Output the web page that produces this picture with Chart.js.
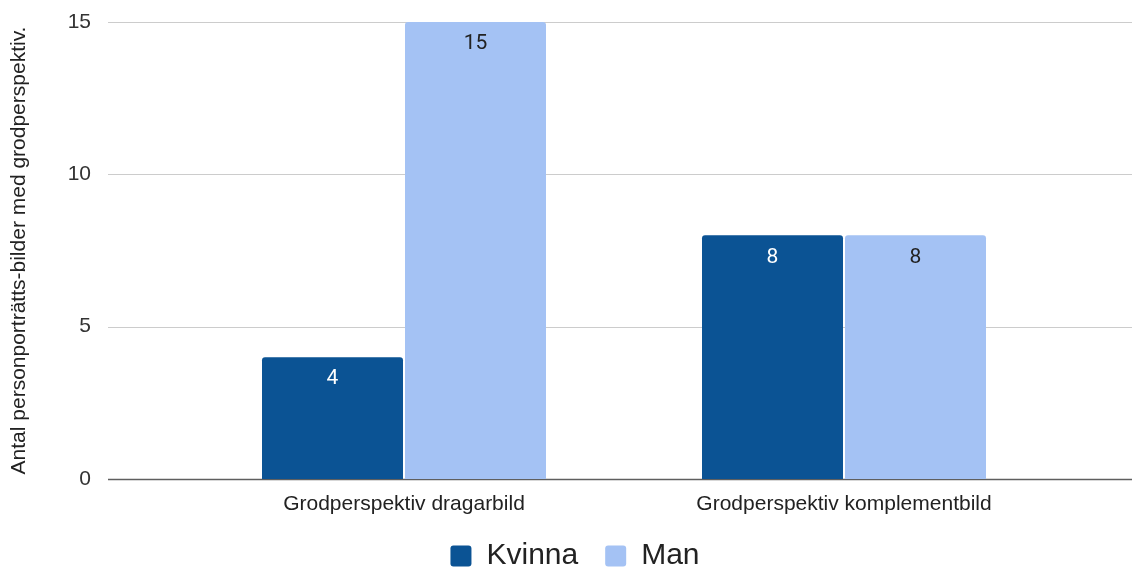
<!DOCTYPE html>
<html><head><meta charset="utf-8">
<script src="https://cdn.jsdelivr.net/npm/chart.js@4.4.0/dist/chart.umd.min.js"></script>
<style>html,body{margin:0;padding:0;background:#fff;}canvas{display:block;}</style>
</head><body>
<canvas id="c" width="1132" height="568"></canvas>
<script>
const categories = ['Grodperspektiv dragarbild', 'Grodperspektiv komplementbild'];
const seriesNames = ['Kvinna', 'Man'];
const kvinnaValues = [4, 8];
const manValues = [15, 8];
const yTicks = [0, 5, 10, 15];
const yTitle = 'Antal personporträtts-bilder med grodperspektiv.';

const FONT = "'Liberation Sans', Arial, sans-serif";

const gridPlugin = {
  id: 'fullGrid',
  beforeDatasetsDraw(chart) {
    const y = chart.scales.y, ctx = chart.ctx;
    const x0 = y.right, x1 = chart.width;
    ctx.save();
    y.ticks.forEach(t => {
      const py = Math.round(y.getPixelForValue(t.value)) + 0.5;
      ctx.beginPath();
      ctx.strokeStyle = t.value === 0 ? '#5f5f5f' : '#cccccc';
      ctx.lineWidth = t.value === 0 ? 1.5 : 1;
      ctx.moveTo(x0, py); ctx.lineTo(x1, py); ctx.stroke();
    });
    ctx.restore();
  }
};

const labelPlugin = {
  id: 'barLabels',
  afterDatasetsDraw(chart) {
    const ctx = chart.ctx;
    ctx.save();
    ctx.font = "21px Roboto, 'Liberation Sans', sans-serif";
    ctx.textAlign = 'center';
    ctx.textBaseline = 'middle';
    chart.data.datasets.forEach((ds, di) => {
      const meta = chart.getDatasetMeta(di);
      meta.data.forEach((el, i) => {
        ctx.fillStyle = di === 0 ? '#ffffff' : '#222222';
        ctx.fillText(String(ds.data[i]), el.x, el.y + 22);
      });
    });
    ctx.restore();
  }
};

const legendFix = {
  id: 'legendFix',
  beforeLayout(chart) {
    const l = chart.legend;
    if (l && !l._patched) {
      const f = l.fit.bind(l);
      l.fit = function () { f(); this.height = 46; };
      l._patched = true;
    }
  },
  afterLayout(chart) {
    const l = chart.legend;
    if (!l) return;
    l.left += 43; l.right += 43;
    l.top -= 8; l.bottom = chart.height; l.height = l.bottom - l.top;
  }
};

new Chart(document.getElementById('c'), {
  type: 'bar',
  data: {
    labels: categories,
    datasets: [
      { label: seriesNames[0], data: kvinnaValues, backgroundColor: '#0b5394', yAxisID: 'y',
        borderRadius: {topLeft: 3, topRight: 3, bottomLeft: 0, bottomRight: 0}, borderSkipped: 'bottom' },
      { label: seriesNames[1], data: manValues, backgroundColor: '#a4c2f4', yAxisID: 'y',
        borderRadius: {topLeft: 3, topRight: 3, bottomLeft: 0, bottomRight: 0}, borderSkipped: 'bottom' }
    ]
  },
  options: {
    responsive: false,
    animation: false,
    devicePixelRatio: 1,
    layout: { padding: { left: 0, right: 68, top: 22, bottom: 0 } },
    datasets: { bar: { categoryPercentage: 0.65, barPercentage: 0.986 } },
    scales: {
      x: {
        grid: { display: false },
        border: { display: false },
        ticks: { font: { family: FONT, size: 21 }, color: '#222222', padding: 5, maxRotation: 0 },
        afterFit(s) { s.height = 43; }
      },
      y: {
        position: 'left',
        weight: 1,
        min: 0, max: 15,
        grid: { display: false },
        border: { display: false },
        afterBuildTicks(s) { s.ticks = yTicks.map(v => ({ value: v })); },
        ticks: { font: { family: FONT, size: 21 }, color: '#333333', padding: 9 },
        title: { display: true, text: yTitle, font: { family: FONT, size: 21 }, color: '#222222', padding: { top: 7, bottom: 0 } },
        afterFit(s) { s.width = 108; }
      },
      ys: {
        type: 'linear',
        position: 'left',
        weight: 0,
        display: true,
        grid: { display: false },
        border: { display: false },
        ticks: { display: false },
        afterFit(s) { s.width = 76; }
      }
    },
    plugins: {
      legend: {
        position: 'bottom',
        labels: {
          font: { family: FONT, size: 30 }, color: '#222222',
          boxWidth: 21, boxHeight: 21, useBorderRadius: true, borderRadius: 3, padding: 27
        }
      },
      tooltip: { enabled: false }
    }
  },
  plugins: [gridPlugin, labelPlugin, legendFix]
});
</script>
</body></html>
